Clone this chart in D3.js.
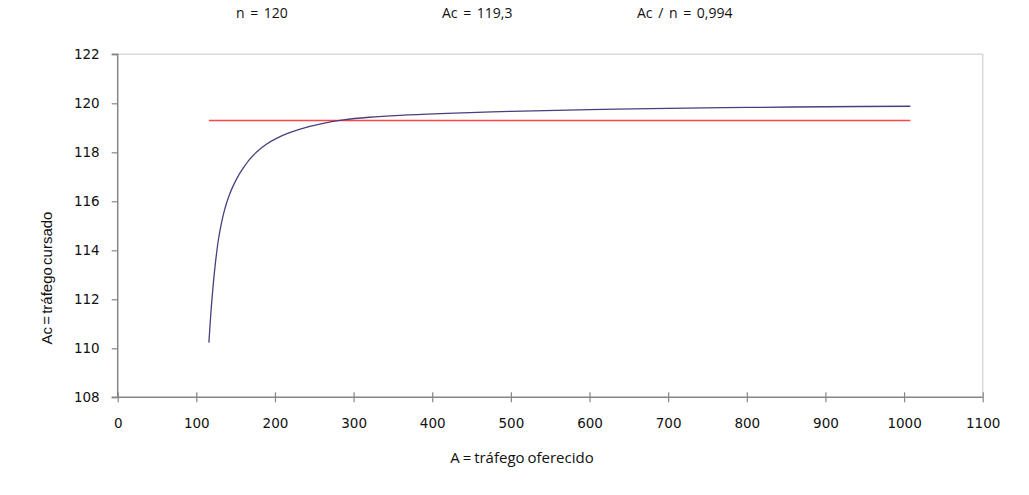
<!DOCTYPE html>
<html>
<head>
<meta charset="utf-8">
<script src="https://cdn.jsdelivr.net/npm/d3@7"></script>
<style>
  html, body { margin: 0; padding: 0; background: #fff; }
  svg { display: block; }
</style>
</head>
<body>
<svg id="chart" width="1029" height="495"></svg>
<script>
// Offered traffic A and carried traffic Ac
const offeredA = [116, 118.5, 121.6, 124.5, 128, 132, 136.5, 141.5, 147, 153, 160, 168, 177, 189, 202, 216, 232, 257, 287, 320, 359, 410, 500, 600, 677, 800, 900, 1008];
const carriedAc = [110.23, 111.45, 112.65, 113.55, 114.42, 115.12, 115.72, 116.22, 116.64, 117.02, 117.37, 117.72, 118.02, 118.33, 118.57, 118.77, 118.95, 119.15, 119.32, 119.43, 119.51, 119.58, 119.67, 119.74, 119.78, 119.83, 119.86, 119.88];
// Horizontal reference line Ac = 119.3
const refLineA = [116, 1008];
const refLineAc = [119.3, 119.3];
const xTicks = [0, 100, 200, 300, 400, 500, 600, 700, 800, 900, 1000, 1100];
const yTicks = [108, 110, 112, 114, 116, 118, 120, 122];
const headerTexts = ["n = 120", "Ac = 119,3", "Ac / n = 0,994"];
const headerX = [236, 442, 637];

const svg = d3.select("#chart");
const pLeft = 117.7, pRight = 982.7, pTop = 54.3, pBottom = 397.3;

const x = d3.scaleLinear().domain([0, 1100]).range([pLeft, pRight]);
const y = d3.scaleLinear().domain([108, 122]).range([pBottom, pTop]);

// plot border (top & right light grey)
svg.append("path")
  .attr("d", `M${pLeft},${pTop}H${pRight}V${pBottom}`)
  .attr("fill", "none").attr("stroke", "#d9d9d9").attr("stroke-width", 1.5);

// Y axis
const yAxis = d3.axisLeft(y).tickValues(yTicks).tickSize(6).tickPadding(12).tickFormat(d3.format("d"));
const gy = svg.append("g").attr("transform", `translate(${pLeft},0)`).call(yAxis);
gy.select(".domain").attr("stroke", "#868686").attr("stroke-width", 1.5).attr("d", `M-6,${pTop}H0V${pBottom}H-6`);
gy.selectAll(".tick line").attr("stroke", "#868686").attr("stroke-width", 1.2);
gy.selectAll(".tick text").attr("font-family", "DejaVu Sans").attr("font-size", "13.5px").attr("fill", "#111");

// X axis
const xAxis = d3.axisBottom(x).tickValues(xTicks).tickSize(5).tickPadding(16).tickFormat(d3.format("d"));
const gx = svg.append("g").attr("transform", `translate(0,${pBottom})`).call(xAxis);
gx.select(".domain").attr("stroke", "#868686").attr("stroke-width", 1.5).attr("d", `M${pLeft},0H${pRight}`);
gx.selectAll(".tick line").attr("stroke", "#868686").attr("stroke-width", 1.2).attr("y1", -5).attr("y2", 5);
gx.selectAll(".tick text").attr("font-family", "DejaVu Sans").attr("font-size", "13.5px").attr("fill", "#111");

// Reference line
const refData = refLineA.map((a, i) => [a, refLineAc[i]]);
svg.append("path").datum(refData)
  .attr("d", d3.line().x(d => x(d[0])).y(d => y(d[1])))
  .attr("fill", "none").attr("stroke", "#ff4545").attr("stroke-width", 1.4);

// Curve
const curveData = offeredA.map((a, i) => [a, carriedAc[i]]);
svg.append("path").datum(curveData)
  .attr("d", d3.line().curve(d3.curveCatmullRom.alpha(0.5)).x(d => x(d[0])).y(d => y(d[1])))
  .attr("fill", "none").attr("stroke", "#4d3d7e").attr("stroke-width", 1.3);

// Header texts
svg.selectAll("text.header").data(headerTexts).enter().append("text")
  .attr("class", "header")
  .attr("x", (d, i) => headerX[i]).attr("y", 18)
  .attr("font-family", "Open Sans").attr("font-size", "14px")
  .attr("fill", "#111")
  .style("word-spacing", "2px")
  .text(d => d);

// Axis titles
svg.append("text")
  .attr("x", 522).attr("y", 463)
  .attr("text-anchor", "middle")
  .attr("font-family", "Open Sans").attr("font-size", "15px")
  .attr("fill", "#111")
  .style("word-spacing", "-1px")
  .text("A = tráfego oferecido");

svg.append("text")
  .attr("transform", "translate(52,278) rotate(-90)")
  .attr("text-anchor", "middle")
  .attr("font-family", "Liberation Sans Narrow, Liberation Sans").attr("font-size", "15px")
  .attr("fill", "#111")
  .style("word-spacing", "-2px")
  .text("Ac = tráfego cursado");
</script>
</body>
</html>
